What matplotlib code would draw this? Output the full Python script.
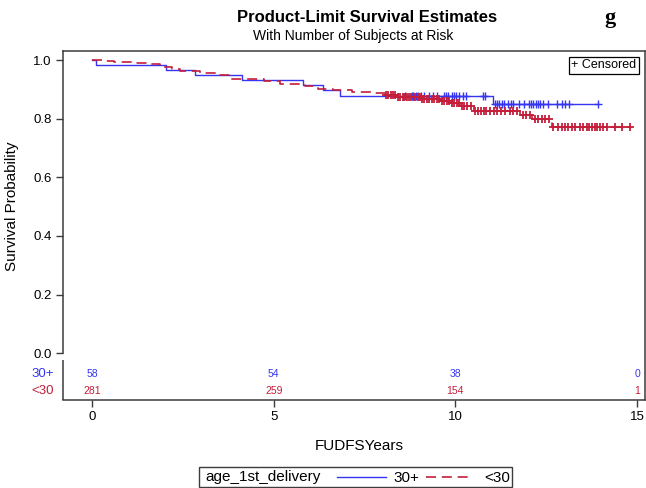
import numpy as np
import matplotlib
matplotlib.use('Agg')
import matplotlib.pyplot as plt
from matplotlib import transforms
from matplotlib.lines import Line2D
from matplotlib.patches import Rectangle

plt.rcParams['font.family'] = ['Liberation Sans', 'DejaVu Sans']

# Kaplan-Meier steps (time of drop, survival after drop)
old_t = [0.10, 2.04, 2.82, 4.12, 5.80, 6.37, 6.83, 11.04]
old_s = [0.983, 0.966, 0.948, 0.931, 0.914, 0.897, 0.879, 0.850]
old_end = 13.94
old_cens = [8.62, 8.80, 8.84, 8.91, 8.96, 9.05, 9.14, 9.28, 9.39, 9.50, 9.70, 9.74,
            9.81, 9.90, 9.96, 10.03, 10.10, 10.20, 10.29, 10.77, 10.82, 11.09, 11.14,
            11.21, 11.28, 11.34, 11.46, 11.53, 11.60, 11.75, 11.89, 12.03, 12.08, 12.15,
            12.21, 12.28, 12.33, 12.42, 12.56, 12.79, 12.93, 13.02, 13.14, 13.94]

young_t = [0.30, 0.60, 1.20, 1.50, 1.87, 2.20, 2.42, 2.97, 3.43, 3.80, 4.26, 4.72,
           5.17, 5.86, 6.23, 6.64, 7.15, 7.79, 8.10, 8.40, 9.05, 9.60, 9.85, 10.13,
           10.50, 11.78, 12.10, 12.65]
young_s = [0.996, 0.993, 0.989, 0.986, 0.977, 0.970, 0.962, 0.957, 0.949, 0.937, 0.934,
           0.928, 0.920, 0.911, 0.903, 0.898, 0.892, 0.886, 0.880, 0.875, 0.866, 0.861,
           0.852, 0.843, 0.827, 0.812, 0.798, 0.771]
young_end = 14.81
young_cens = [8.10, 8.15, 8.22, 8.28, 8.35, 8.42, 8.48, 8.55, 8.60, 8.66, 8.72, 8.78,
              8.85, 8.90, 8.96, 9.02, 9.08, 9.15, 9.22, 9.28, 9.35, 9.42, 9.50, 9.56,
              9.63, 9.70, 9.76, 9.82, 9.90, 9.97, 10.05, 10.10, 10.18, 10.25, 10.33,
              10.42, 10.55, 10.62, 10.70, 10.78, 10.85, 10.95, 11.05, 11.15, 11.25,
              11.37, 11.50, 11.60, 11.70, 11.85, 11.95, 12.05, 12.18, 12.28, 12.38,
              12.48, 12.58, 12.70, 12.83, 12.93, 13.02, 13.11, 13.20, 13.29, 13.43,
              13.52, 13.61, 13.69, 13.75, 13.83, 13.89, 13.98, 14.07, 14.17, 14.40,
              14.58, 14.81]

risk_times = [0, 5, 10, 15]
risk_old = [58, 54, 38, 0]
risk_young = [281, 259, 154, 1]

BLUE = '#3535f2'
RED = '#c41e3a'
FRAME = '#3c3c3c'

W, H = 646, 488
def fx(x): return x / W
def fy(y): return 1 - y / H


def km_line(t, s, end):
    xs = np.concatenate([[0], t, [end]])
    ys = np.concatenate([[1.0], s, [s[-1]]])
    return xs, ys


def at(t, s, c):
    idx = np.searchsorted(t, c, side='right') - 1
    vals = np.where(idx >= 0, np.array(s)[np.clip(idx, 0, None)], 1.0)
    return vals


fig = plt.figure(figsize=(6.46, 4.88), dpi=100)
ax = fig.add_axes([fx(63), fy(400), (645 - 63) / W, 349 / H])

xs, ys = km_line(old_t, old_s, old_end)
ax.step(xs, ys, where='post', color=BLUE, lw=1.0)
ax.plot(old_cens, at(old_t, old_s, old_cens), '+', color=BLUE, ms=6, mew=1.0)

xs, ys = km_line(young_t, young_s, young_end)
ax.step(xs, ys, where='post', color=RED, lw=1.2, linestyle=(0, (6, 3.5)))
ax.plot(young_cens, at(young_t, young_s, young_cens), '+', color=RED, ms=6, mew=1.3)

ax.set_xlim(-0.80, 15.22)
ax.set_ylim(-0.160, 1.031)
ax.set_xticks([0, 5, 10, 15])
ax.set_yticks([0, 0.2, 0.4, 0.6, 0.8, 1.0])
ax.set_yticklabels(['%.1f' % v for v in [0, 0.2, 0.4, 0.6, 0.8, 1.0]])
ax.tick_params(direction='out', length=5, width=1.0, color=FRAME, labelsize=9.5, pad=3)
for sp in ax.spines.values():
    sp.set_color(FRAME)
    sp.set_linewidth(1.1)
ax.spines['left'].set_bounds(0, 1.031)
ax.plot([0, 0], [0, (400 - 360) / 349], transform=ax.transAxes, color=FRAME,
        lw=1.1, clip_on=False, solid_capstyle='butt')

# numbers at risk
bt = transforms.blended_transform_factory(ax.transAxes, ax.transData)
ax.text(-0.015, -0.0717, '30+', color=BLUE, ha='right', va='center', fontsize=9.5, transform=bt)
ax.text(-0.015, -0.130, '<30', color=RED, ha='right', va='center', fontsize=9.5, transform=bt)
for t, a, b in zip(risk_times, risk_old, risk_young):
    ax.text(t, -0.0717, str(a), color=BLUE, ha='center', va='center', fontsize=7.5)
    ax.text(t, -0.130, str(b), color=RED, ha='center', va='center', fontsize=7.5)

ax.text(fx(604), fy(65.5), '+ Censored', transform=fig.transFigure, ha='center', va='center',
        fontsize=9, bbox=dict(boxstyle='square,pad=0.2', fc='white', ec='black', lw=0.9))

fig.text(fx(12), fy(206), 'Survival Probability', rotation=90, ha='center', va='center', fontsize=11)
fig.text(fx(359), fy(446), 'FUDFSYears', ha='center', va='center', fontsize=11)

fig.text(fx(367), fy(17), 'Product-Limit Survival Estimates', ha='center', va='center',
         fontsize=12, fontweight='bold')
fig.text(fx(353.5), fy(36), 'With Number of Subjects at Risk', ha='center', va='center', fontsize=10)
fig.text(fx(610), fy(18), 'g', ha='center', va='center', fontsize=16, fontweight='bold',
         family=['Liberation Serif', 'DejaVu Serif'])

# legend
fig.add_artist(Rectangle((fx(199), fy(487)), (512 - 199) / W, 20 / H, transform=fig.transFigure,
                         fc='white', ec=FRAME, lw=1.0))
fig.text(fx(205), fy(477.5), 'age_1st_delivery', ha='left', va='center', fontsize=11)
fig.add_artist(Line2D([fx(337), fx(386)], [fy(477), fy(477)], color=BLUE, lw=1.0))
fig.text(fx(393), fy(477.5), '30+', ha='left', va='center', fontsize=11)
fig.add_artist(Line2D([fx(426), fx(472)], [fy(477), fy(477)], color=RED, lw=1.2,
                      linestyle=(0, (6, 3.5))))
fig.text(fx(484), fy(477.5), '<30', ha='left', va='center', fontsize=11)

fig.savefig('out.png', dpi=100)
